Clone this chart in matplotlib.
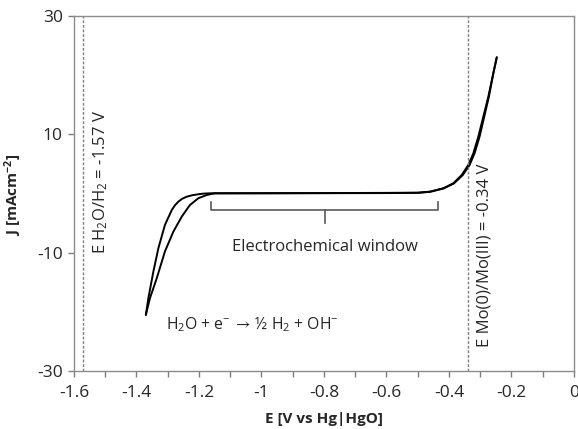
import numpy as np
import matplotlib.pyplot as plt
from matplotlib.ticker import MultipleLocator, FixedLocator

plt.rcParams['font.family'] = ['Open Sans', 'DejaVu Sans']
plt.rcParams['axes.unicode_minus'] = False
plt.rcParams['mathtext.fontset'] = 'custom'
plt.rcParams['mathtext.rm'] = 'Open Sans'
plt.rcParams['mathtext.it'] = 'Open Sans'
plt.rcParams['mathtext.bf'] = 'Open Sans:bold'
plt.rcParams['mathtext.fallback'] = 'stixsans'

# cathodic-to-anodic sweep (inner curve on the hydrogen side)
E_fwd = [-1.370, -1.357, -1.335, -1.309, -1.282, -1.255, -1.229, -1.202, -1.175,
         -1.150, -1.000, -0.800, -0.600, -0.500, -0.461, -0.418, -0.386,
         -0.359, -0.338, -0.322, -0.306, -0.290, -0.274, -0.258, -0.247]
J_fwd = [-20.5, -17.7, -14.3, -9.8, -6.45, -3.9, -1.95, -0.8, -0.25,
         0.02, 0.05, 0.07, 0.10, 0.14, 0.31, 0.88, 1.72,
         3.13, 4.82, 6.79, 9.60, 12.98, 16.36, 20.32, 23.0]

# reverse sweep back to the cathodic vertex
E_rev = [-0.247, -0.258, -0.272, -0.287, -0.302, -0.318, -0.334, -0.356,
         -0.384, -0.417, -0.460, -0.500, -0.600, -0.800, -1.000, -1.159,
         -1.185, -1.202, -1.222, -1.239, -1.254, -1.266, -1.277, -1.287,
         -1.309, -1.330, -1.346, -1.362, -1.370]
J_rev = [23.0, 20.3, 16.4, 13.0, 9.6, 6.8, 4.8, 3.1,
         1.7, 0.85, 0.28, 0.10, 0.07, 0.05, 0.03, 0.04,
         -0.02, -0.13, -0.30, -0.54, -0.90, -1.38, -2.0, -2.79,
         -5.32, -9.26, -13.2, -17.7, -20.5]

E_h2 = -1.57          # E H2O/H2
E_mo = -0.34          # E Mo(0)/Mo(III)
window = (-1.16, -0.434)

fig = plt.figure(figsize=(5.78, 4.29), dpi=100)
ax = fig.add_axes([0.128, 0.135, 0.865, 0.828])

ax.plot(E_fwd, J_fwd, color='black', lw=1.4, solid_capstyle='round',
        solid_joinstyle='round')
ax.plot(E_rev, J_rev, color='black', lw=1.4, solid_capstyle='round',
        solid_joinstyle='round')

for e in (E_h2, E_mo):
    ax.axvline(e, color='#7f7f7f', lw=1.0, ls=(0, (2, 1.3)))

# bracket over the stable region
wmid = sum(window) / 2
ax.plot([window[0], window[0], window[1], window[1]], [-1.4, -2.8, -2.8, -1.4],
        color='#595959', lw=1.2)
ax.plot([wmid, wmid], [-2.8, -5.0], color='#595959', lw=1.2)

txt = dict(fontsize=12, color='#262626', ha='center', va='center')
ax.text(wmid, -9.0, 'Electrochemical window', **txt)
ax.text(-1.029, -22.2, r'H$_2$O + e$^{-}\,\rightarrow\,$½ H$_2$ + OH$^{-}$',
        **{**txt, 'fontsize': 11.3})
ax.text(-1.515, 2.0, 'E H$_2$O/H$_2$ = -1.57 V', rotation=90, **txt)
ax.text(-0.285, -10.5, 'E Mo(0)/Mo(III) = -0.34 V', rotation=90, **txt)

ax.set_xlim(-1.6, 0)
ax.set_ylim(-30, 30)
ax.xaxis.set_minor_locator(MultipleLocator(0.1))
ax.yaxis.set_major_locator(FixedLocator([-30, -10, 10, 30]))
ax.set_xticks([-1.6, -1.4, -1.2, -1.0, -0.8, -0.6, -0.4, -0.2, 0.0])
ax.set_xticklabels(['-1.6', '-1.4', '-1.2', '-1', '-0.8', '-0.6', '-0.4', '-0.2', '0'])
ax.tick_params(axis='both', which='both', direction='out', length=4, width=1,
               color='#7f7f7f', labelsize=12.5, labelcolor='#262626')
ax.tick_params(axis='x', pad=6)
ax.tick_params(axis='y', pad=4)
for s in ax.spines.values():
    s.set_color('#8c8c8c')
    s.set_linewidth(1.0)

ax.set_xlabel('E [V vs Hg|HgO]', fontsize=11, fontweight='bold', color='#262626')
ax.set_ylabel(r'J [mAcm$^{\mathbf{-2}}$]', fontsize=11, fontweight='bold',
              color='#262626')
ax.xaxis.set_label_coords(0.5, -0.115)
ax.yaxis.set_label_coords(-0.1, 0.496)

fig.savefig('out.png', dpi=100)
